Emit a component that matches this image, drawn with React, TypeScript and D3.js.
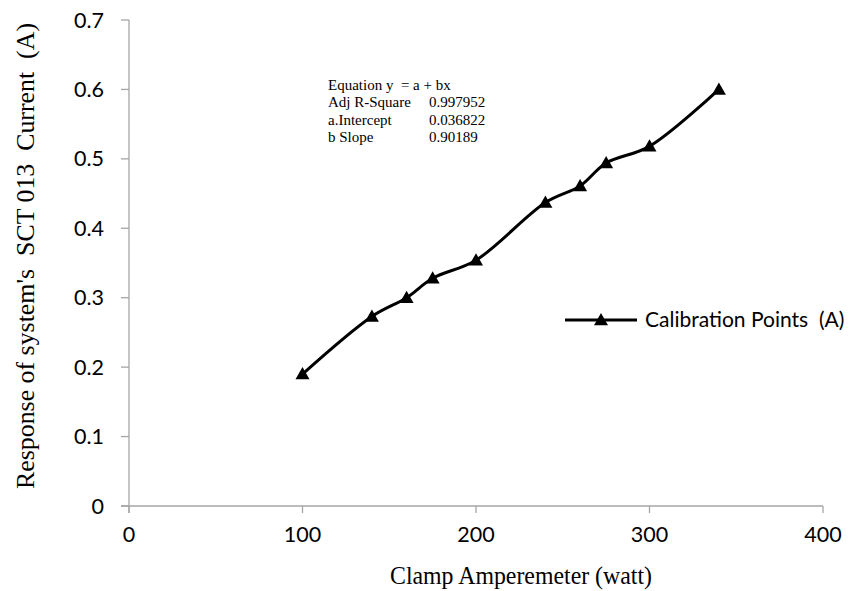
import React from "react";
import * as d3 from "d3";

const xValues = [100, 140, 160, 175, 200, 240, 260, 275, 300, 340];
const yValues = [0.19, 0.273, 0.3, 0.328, 0.354, 0.437, 0.461, 0.494, 0.518, 0.6];
const xTicks = [0, 100, 200, 300, 400];
const yTicks = [0, 0.1, 0.2, 0.3, 0.4, 0.5, 0.6, 0.7];
const seriesName = "Calibration Points  (A)";
const xTitle = "Clamp Amperemeter (watt)";
const yTitle = "Response of system's  SCT 013  Current  (A)";
const eqLabels = ["Equation y  = a + bx", "Adj R-Square", "a.Intercept", "b Slope"];
const eqValues = ["", "0.997952", "0.036822", "0.90189"];

export default function App() {
  const W = 850, H = 591;
  const x = d3.scaleLinear().domain([0, 400]).range([129, 823]);
  const y = d3.scaleLinear().domain([0, 0.7]).range([506, 20]);
  const pts = xValues.map((v, i) => [x(v), y(yValues[i])] as [number, number]);
  const line = d3.line().curve(d3.curveCatmullRom.alpha(0.5))(pts) || "";
  const tri = (cx: number, cy: number, s = 7) =>
    `M${cx},${cy - s}L${cx + s},${cy + s * 0.75}L${cx - s},${cy + s * 0.75}Z`;
  const axisColor = "#a6a6a6";
  const tickFont = "Lato, 'Open Sans', sans-serif";
  const serif = "'Liberation Serif', 'Times New Roman', serif";
  return (
    <svg width={W} height={H} style={{ position: "absolute", left: 0, top: 0, background: "#fff" }}>
      <rect width={W} height={H} fill="#fff" />
      {/* axes */}
      <line x1={x(0)} x2={x(0)} y1={y(0.7)} y2={y(0) + 7} stroke={axisColor} strokeWidth={1.3} />
      <line x1={x(0) - 8} x2={x(400)} y1={y(0)} y2={y(0)} stroke={axisColor} strokeWidth={1.3} />
      {yTicks.map((t) => (
        <g key={"y" + t}>
          <line x1={x(0) - 8} x2={x(0)} y1={y(t)} y2={y(t)} stroke={axisColor} strokeWidth={1.3} />
          <text x={x(0) - 25} y={y(t)} dy="0.35em" textAnchor="end" fontFamily={tickFont} fontSize={21.5} fill="#000">
            {t === 0 ? "0" : t.toFixed(1)}
          </text>
        </g>
      ))}
      {xTicks.map((t) => (
        <g key={"x" + t}>
          <line x1={x(t)} x2={x(t)} y1={y(0)} y2={y(0) + 7} stroke={axisColor} strokeWidth={1.3} />
          <text x={x(t)} y={y(0) + 36} textAnchor="middle" fontFamily={tickFont} fontSize={21.5} fill="#000">
            {t}
          </text>
        </g>
      ))}
      {/* titles */}
      <text x={390} y={584} textLength={262} lengthAdjust="spacingAndGlyphs" fontFamily={serif} fontSize={25} fill="#000">
        {xTitle}
      </text>
      <text
        transform={`translate(34,489) rotate(-90)`}
        textLength={466}
        lengthAdjust="spacingAndGlyphs"
        fontFamily={serif}
        fontSize={26}
        fill="#000"
        style={{ whiteSpace: "pre" }}
      >
        {yTitle}
      </text>
      {/* series */}
      <path d={line} fill="none" stroke="#000" strokeWidth={3} />
      {pts.map((p, i) => (
        <path key={i} d={tri(p[0], p[1])} fill="#000" />
      ))}
      {/* equation box */}
      {eqLabels.map((l, i) => (
        <g key={"eq" + i}>
          <text x={328} y={90 + i * 17.3} fontFamily={serif} fontSize={15} fill="#000" style={{ whiteSpace: "pre" }}>
            {l}
          </text>
          {eqValues[i] && (
            <text x={429} y={90 + i * 17.3} fontFamily={serif} fontSize={15} fill="#000">
              {eqValues[i]}
            </text>
          )}
        </g>
      ))}
      {/* legend */}
      <line x1={565} x2={637} y1={320} y2={320} stroke="#000" strokeWidth={3} />
      <path d={tri(601, 320)} fill="#000" />
      <text x={645} y={320} dy="0.35em" fontFamily={tickFont} fontSize={21} fill="#000" style={{ whiteSpace: "pre" }}>
        {seriesName}
      </text>
    </svg>
  );
}
